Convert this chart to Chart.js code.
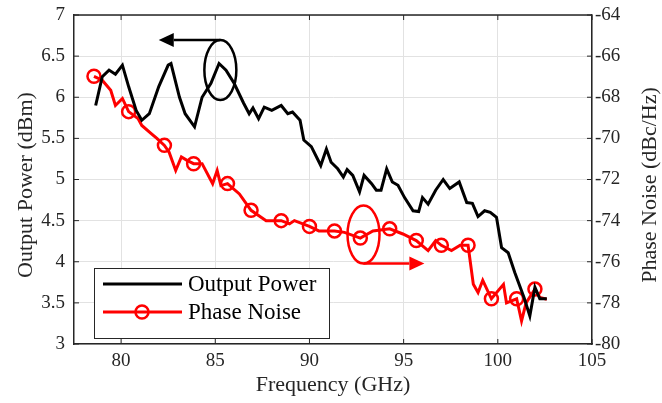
<!DOCTYPE html>
<html>
<head>
<meta charset="utf-8">
<script src="https://cdn.jsdelivr.net/npm/chart.js@4.4.0/dist/chart.umd.min.js"></script>
<style>
  html, body { margin: 0; padding: 0; background: #fff; }
</style>
</head>
<body>
<canvas id="chart" width="662" height="403"></canvas>
<script>
(function() {
    'use strict';

    // Output power (left axis, dBm)
    var powerFreq = [78.65, 79.0, 79.36, 79.7, 80.07, 80.4, 80.8, 81.1, 81.5, 82.0,
        82.5, 82.65, 83.1, 83.4, 83.9, 84.3, 84.77, 85.2, 85.57, 86.0,
        86.5, 86.8, 87.0, 87.3, 87.6, 88.0, 88.5, 88.85, 89.1, 89.5,
        89.7, 90.1, 90.6, 90.9, 91.15, 91.5, 91.8, 92.0, 92.3, 92.66,
        92.9, 93.3, 93.55, 93.8, 94.1, 94.4, 94.7, 95.05, 95.5, 95.8,
        96.0, 96.3, 96.7, 97.1, 97.45, 97.95, 98.35, 98.65, 98.95, 99.3,
        99.6, 99.93, 100.2, 100.55, 100.9, 101.4, 101.7, 101.97, 102.23, 102.6];
    var outputPower = [5.90, 6.25, 6.33, 6.28, 6.39, 6.13, 5.84, 5.72, 5.80, 6.13,
        6.39, 6.41, 6.00, 5.80, 5.64, 6.00, 6.17, 6.41, 6.33, 6.17,
        5.93, 5.80, 5.87, 5.74, 5.88, 5.84, 5.90, 5.80, 5.82, 5.72,
        5.48, 5.40, 5.17, 5.37, 5.21, 5.13, 5.03, 5.12, 5.05, 4.85,
        5.05, 4.95, 4.87, 4.87, 5.13, 4.97, 4.93, 4.78, 4.62, 4.61,
        4.78, 4.70, 4.87, 5.00, 4.89, 4.97, 4.72, 4.71, 4.55, 4.62,
        4.60, 4.54, 4.17, 4.11, 3.87, 3.56, 3.34, 3.69, 3.55, 3.55];

    // Phase noise (right axis, dBc/Hz)
    var noiseFreq = [78.56, 79.0, 79.45, 79.7, 80.07, 80.4, 80.9, 81.1, 81.6, 81.9,
        82.3, 82.55, 82.9, 83.2, 83.5, 83.85, 84.3, 84.86, 85.1, 85.3,
        85.65, 86.28, 86.9, 87.7, 88.5, 88.94, 89.2, 90.0, 90.5, 91.33,
        91.86, 92.7, 93.37, 94.26, 94.96, 95.67, 96.3, 96.7, 97.0, 97.54,
        98.0, 98.42, 98.7, 98.95, 99.2, 99.66, 100.3, 100.46, 101.0, 101.26,
        101.5, 101.97, 102.23, 102.6];
    var phaseNoise = [-66.98, -67.17, -67.66, -68.4, -68.06, -68.7, -69.04, -69.37, -69.77, -70.0,
        -70.34, -70.67, -71.56, -70.9, -71.07, -71.23, -71.23, -72.2, -71.56, -72.3,
        -72.2, -72.7, -73.5, -74.0, -74.0, -74.16, -74.0, -74.28, -74.5, -74.5,
        -74.57, -74.85, -74.5, -74.4, -74.65, -74.97, -75.46, -74.97, -75.2, -75.46,
        -75.2, -75.2, -77.1, -77.5, -76.9, -77.8, -77.1, -78.0, -77.8, -78.88,
        -78.0, -77.33, -77.74, -77.82];
    var noiseMarkers = [0, 5, 10, 15, 20, 22, 24, 27, 29, 31, 33, 35, 38, 41, 45, 48, 51];

    var freqTicks = [80, 85, 90, 95, 100, 105];
    var powerTicks = [3, 3.5, 4, 4.5, 5, 5.5, 6, 6.5, 7];
    var noiseTicks = [-80, -78, -76, -74, -72, -70, -68, -66, -64];

    var labels = {
        x: 'Frequency (GHz)',
        yLeft: 'Output Power (dBm)',
        yRight: 'Phase Noise (dBc/Hz)',
        power: 'Output Power',
        noise: 'Phase Noise'
    };

    var FONT = "'Liberation Serif', 'Times New Roman', serif";
    var AXIS = '#262626';
    var GRID = '#e2e2e2';

    function points(xs, ys) {
        return xs.map(function(x, i) { return {x: x, y: ys[i]}; });
    }

    function fixTicks(list) {
        return function(scale) {
            scale.ticks = list.map(function(v) { return {value: v}; });
        };
    }

    // fixed axis box widths, no extra room for the end labels
    function fitY(width) {
        return function(s) {
            s.width = width;
            s.paddingTop = 0;
            s.paddingBottom = 0;
        };
    }

    function drawEllipseArrow(ctx, cx, cy, rx, ry, fromY, toX, color) {
        ctx.save();
        ctx.strokeStyle = color;
        ctx.fillStyle = color;
        ctx.lineWidth = 2.5;
        ctx.beginPath();
        ctx.ellipse(cx, cy, rx, ry, 0, 0, Math.PI * 2);
        ctx.stroke();
        var dir = toX > cx ? 1 : -1;
        var headLen = 15;
        ctx.beginPath();
        ctx.moveTo(cx, fromY);
        ctx.lineTo(toX - dir * headLen, fromY);
        ctx.stroke();
        ctx.beginPath();
        ctx.moveTo(toX, fromY);
        ctx.lineTo(toX - dir * headLen, fromY - 7);
        ctx.lineTo(toX - dir * headLen, fromY + 7);
        ctx.closePath();
        ctx.fill();
        ctx.restore();
    }

    var decorations = {
        id: 'decorations',
        afterDraw: function(chart) {
            var ctx = chart.ctx,
                a = chart.chartArea,
                sx = chart.scales.x,
                sy = chart.scales.y,
                sy2 = chart.scales.y2;

            ctx.save();
            // top frame line and inward ticks
            ctx.strokeStyle = AXIS;
            ctx.lineWidth = 1.5;
            ctx.beginPath();
            ctx.moveTo(a.left, a.top);
            ctx.lineTo(a.right, a.top);
            ctx.stroke();
            ctx.lineWidth = 1;
            ctx.beginPath();
            freqTicks.forEach(function(v) {
                var px = sx.getPixelForValue(v);
                ctx.moveTo(px, a.bottom);
                ctx.lineTo(px, a.bottom - 5);
                ctx.moveTo(px, a.top);
                ctx.lineTo(px, a.top + 5);
            });
            powerTicks.forEach(function(v) {
                var py = sy.getPixelForValue(v);
                ctx.moveTo(a.left, py);
                ctx.lineTo(a.left + 5, py);
            });
            noiseTicks.forEach(function(v) {
                var py = sy2.getPixelForValue(v);
                ctx.moveTo(a.right, py);
                ctx.lineTo(a.right - 5, py);
            });
            ctx.stroke();

            // annotations: which curve belongs to which axis
            var bx = sx.getPixelForValue(85.27), by = sy.getPixelForValue(6.33);
            drawEllipseArrow(ctx, bx, by, 16, 30, by - 30, sx.getPixelForValue(82.0), '#000');
            var rx = sx.getPixelForValue(92.87), ry = sy2.getPixelForValue(-74.68);
            drawEllipseArrow(ctx, rx, ry, 16, 29, ry + 29, sx.getPixelForValue(96.1), '#ff0000');

            // axis titles
            ctx.fillStyle = '#262626';
            ctx.font = '22px ' + FONT;
            ctx.textAlign = 'center';
            ctx.textBaseline = 'middle';
            ctx.fillText(labels.x, (a.left + a.right) / 2, 385);
            ctx.save();
            ctx.translate(26, 185);
            ctx.rotate(-Math.PI / 2);
            ctx.fillText(labels.yLeft, 0, 0);
            ctx.restore();
            ctx.save();
            ctx.translate(650, 185);
            ctx.rotate(-Math.PI / 2);
            ctx.fillText(labels.yRight, 0, 0);
            ctx.restore();

            // legend
            var lx = a.left + 20, ly = a.bottom - 76, lw = 235, lh = 70;
            ctx.fillStyle = '#fff';
            ctx.fillRect(lx, ly, lw, lh);
            ctx.strokeStyle = '#262626';
            ctx.lineWidth = 1;
            ctx.strokeRect(lx + 0.5, ly + 0.5, lw, lh);
            ctx.lineWidth = 3;
            ctx.strokeStyle = '#000';
            ctx.beginPath();
            ctx.moveTo(lx + 9, ly + 16);
            ctx.lineTo(lx + 88, ly + 16);
            ctx.stroke();
            ctx.strokeStyle = '#ff0000';
            ctx.beginPath();
            ctx.moveTo(lx + 9, ly + 44);
            ctx.lineTo(lx + 88, ly + 44);
            ctx.stroke();
            ctx.lineWidth = 2.5;
            ctx.beginPath();
            ctx.arc(lx + 48, ly + 44, 6.5, 0, Math.PI * 2);
            ctx.stroke();
            ctx.fillStyle = '#000';
            ctx.font = '23px ' + FONT;
            ctx.textAlign = 'left';
            ctx.fillText(labels.power, lx + 94, ly + 17);
            ctx.fillText(labels.noise, lx + 94, ly + 45);
            ctx.restore();
        }
    };

    var tickFont = {family: FONT, size: 19};

    new Chart(document.getElementById('chart'), {
        type: 'line',
        data: {
            datasets: [{
                label: labels.power,
                data: points(powerFreq, outputPower),
                yAxisID: 'y',
                borderColor: '#000',
                borderWidth: 3,
                pointRadius: 0,
                tension: 0,
                fill: false
            }, {
                label: labels.noise,
                data: points(noiseFreq, phaseNoise),
                yAxisID: 'y2',
                borderColor: '#ff0000',
                borderWidth: 3,
                pointRadius: noiseFreq.map(function(f, i) {
                    return noiseMarkers.indexOf(i) === -1 ? 0 : 6.5;
                }),
                pointBorderColor: '#ff0000',
                pointBorderWidth: 2.5,
                pointBackgroundColor: 'rgba(0,0,0,0)',
                pointHoverRadius: 0,
                tension: 0,
                fill: false
            }]
        },
        options: {
            responsive: false,
            animation: false,
            layout: {padding: {top: 15, left: 0, right: 0, bottom: 0}},
            plugins: {
                legend: {display: false},
                tooltip: {enabled: false}
            },
            scales: {
                x: {
                    type: 'linear',
                    min: 77.5,
                    max: 105,
                    afterBuildTicks: fixTicks(freqTicks),
                    afterFit: function(s) { s.height = 59; },
                    grid: {color: GRID, drawTicks: false},
                    border: {color: AXIS, width: 1.5},
                    ticks: {
                        font: tickFont,
                        color: '#262626',
                        padding: 6,
                        maxRotation: 0,
                        callback: function(v) { return String(v); }
                    }
                },
                y: {
                    position: 'left',
                    min: 3,
                    max: 7,
                    afterBuildTicks: fixTicks(powerTicks),
                    afterFit: fitY(74),
                    grid: {color: GRID, drawTicks: false},
                    border: {color: AXIS, width: 1.5},
                    ticks: {
                        font: tickFont,
                        color: '#262626',
                        padding: 9,
                        callback: function(v) { return String(v); }
                    }
                },
                y2: {
                    position: 'right',
                    min: -80,
                    max: -64,
                    afterBuildTicks: fixTicks(noiseTicks),
                    afterFit: fitY(70),
                    grid: {drawOnChartArea: false, drawTicks: false},
                    border: {color: AXIS, width: 1.5},
                    ticks: {
                        font: tickFont,
                        color: '#262626',
                        padding: 3,
                        callback: function(v) { return String(v); }
                    }
                }
            }
        },
        plugins: [decorations]
    });
})();
</script>
</body>
</html>
